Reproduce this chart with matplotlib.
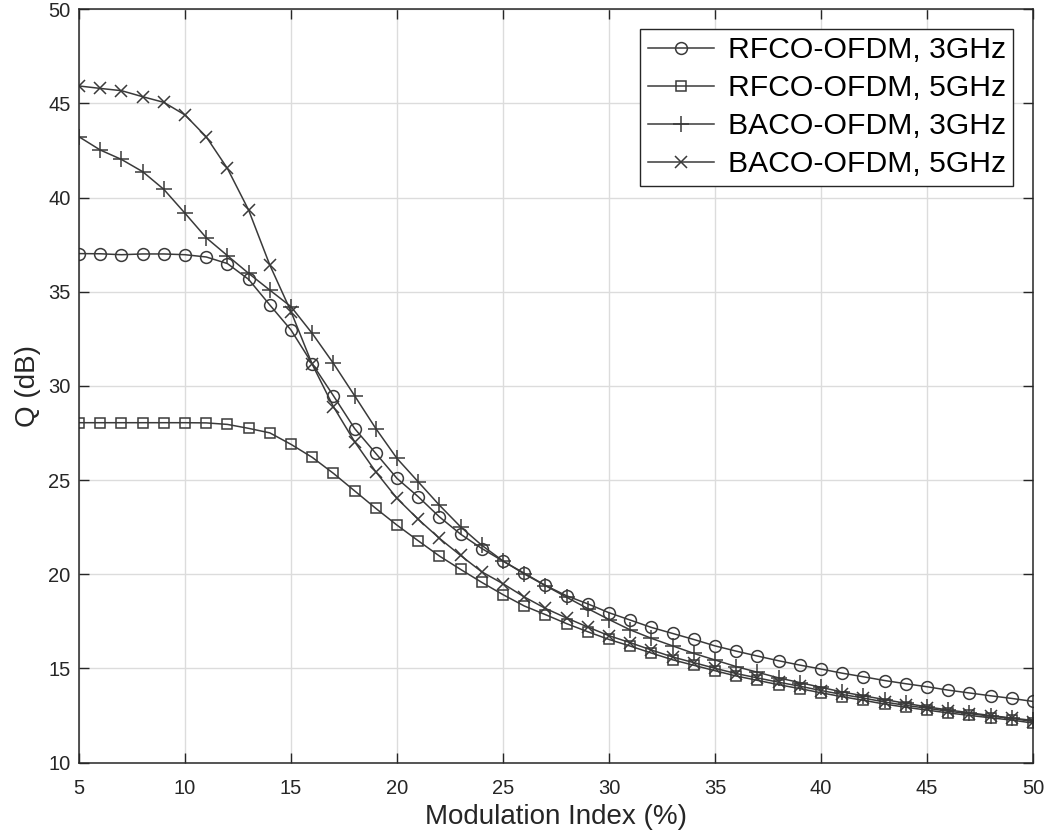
import matplotlib.pyplot as plt

plt.rcParams['font.family'] = ['Liberation Sans', 'DejaVu Sans']

mod_index = list(range(5, 51))

rfco_3ghz = [37.03, 37.02, 36.97, 37.01, 37.01, 36.97, 36.85, 36.50, 35.66, 34.30,
             32.97, 31.18, 29.48, 27.74, 26.42, 25.09, 24.12, 23.05, 22.13, 21.37,
             20.70, 20.06, 19.41, 18.86, 18.43, 17.96, 17.57, 17.18, 16.86, 16.54,
             16.20, 15.92, 15.66, 15.41, 15.18, 14.97, 14.75, 14.56, 14.36, 14.19,
             14.03, 13.85, 13.70, 13.55, 13.41, 13.25]
rfco_5ghz = [28.05, 28.05, 28.05, 28.05, 28.05, 28.05, 28.04, 27.96, 27.75, 27.51,
             26.90, 26.21, 25.36, 24.43, 23.50, 22.61, 21.78, 20.97, 20.26, 19.57,
             18.92, 18.32, 17.86, 17.38, 16.95, 16.54, 16.19, 15.82, 15.46, 15.17,
             14.88, 14.60, 14.37, 14.14, 13.93, 13.71, 13.50, 13.31, 13.11, 12.94,
             12.79, 12.64, 12.51, 12.38, 12.26, 12.10]
baco_3ghz = [43.23, 42.53, 42.03, 41.38, 40.44, 39.17, 37.87, 36.92, 35.98, 35.09,
             34.21, 32.79, 31.20, 29.48, 27.74, 26.15, 24.91, 23.67, 22.52, 21.54,
             20.71, 20.02, 19.40, 18.78, 18.18, 17.60, 17.05, 16.60, 16.20, 15.80,
             15.45, 15.10, 14.80, 14.50, 14.25, 14.00, 13.75, 13.55, 13.35, 13.15,
             12.96, 12.80, 12.65, 12.50, 12.37, 12.24]
baco_5ghz = [45.93, 45.80, 45.68, 45.36, 45.06, 44.39, 43.23, 41.55, 39.34, 36.42,
             33.95, 31.15, 28.90, 27.04, 25.44, 24.03, 22.92, 21.91, 21.00, 20.13,
             19.50, 18.80, 18.19, 17.68, 17.20, 16.74, 16.37, 15.98, 15.61, 15.31,
             15.01, 14.73, 14.50, 14.27, 14.06, 13.83, 13.62, 13.43, 13.22, 13.04,
             12.89, 12.73, 12.60, 12.47, 12.35, 12.18]

fig = plt.figure(figsize=(10.51, 8.39), dpi=100)
ax = fig.add_axes([0.0752, 0.0910, 0.9077, 0.8979])

lc = '#3a3a3a'
common = dict(color=lc, lw=1.1, markerfacecolor='none',
              markeredgecolor=lc, markeredgewidth=1.1)
ax.plot(mod_index, rfco_3ghz, marker='o', markersize=8.5,
        label='RFCO-OFDM, 3GHz', **common)
ax.plot(mod_index, rfco_5ghz, marker='s', markersize=7.5,
        label='RFCO-OFDM, 5GHz', **common)
ax.plot(mod_index, baco_3ghz, marker='+', markersize=11.5,
        label='BACO-OFDM, 3GHz', **common)
ax.plot(mod_index, baco_5ghz, marker='x', markersize=9,
        label='BACO-OFDM, 5GHz', **common)

ax.set_xlim(5, 50)
ax.set_ylim(10, 50)
ax.set_xticks(range(5, 51, 5))
ax.set_yticks(range(10, 51, 5))
ax.grid(True, color='#dcdcdc', lw=1.0)
ax.set_axisbelow(True)
ax.tick_params(direction='in', length=7, width=1, colors='#262626',
               labelsize=14.5, top=True, right=True)
ax.tick_params(axis='x', pad=12)
ax.tick_params(axis='y', pad=6)
for s in ax.spines.values():
    s.set_color('#262626')
    s.set_linewidth(1.1)

ax.set_xlabel('Modulation Index (%)', fontsize=20, color='#262626', labelpad=4)
ax.set_ylabel('Q (dB)', fontsize=20, color='#262626', labelpad=5)

leg = ax.legend(loc='upper right', fontsize=21.7, frameon=True, fancybox=False,
                framealpha=1, edgecolor='#262626', handlelength=2.2,
                handletextpad=0.45, labelspacing=0.33, borderaxespad=0.65,
                borderpad=0.25)
leg.get_frame().set_linewidth(1.0)

fig.savefig('out.png', dpi=100)
